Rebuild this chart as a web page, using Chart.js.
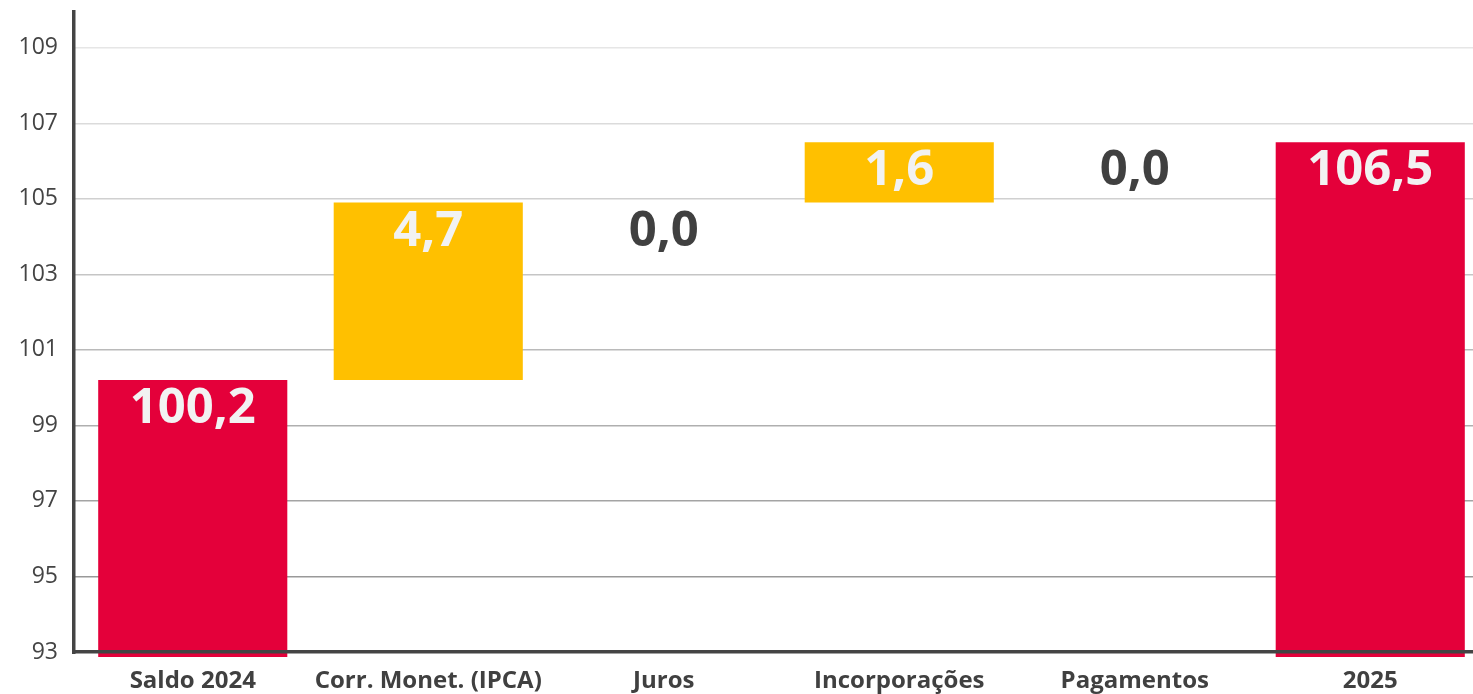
<!DOCTYPE html>
<html>
<head>
<meta charset="utf-8">
<script src="https://cdn.jsdelivr.net/npm/chart.js@4.4.1/dist/chart.umd.min.js"></script>
<style>
  html, body { margin: 0; padding: 0; background: #fff; overflow: hidden; }
  #wrap { width: 1488px; height: 694px; }
</style>
</head>
<body>
<div id="wrap"><canvas id="waterfall"></canvas></div>
<script>
// Waterfall data
const categories = ['Saldo 2024', 'Corr. Monet. (IPCA)', 'Juros', 'Incorporações', 'Pagamentos', '2025'];
const values = [100.2, 4.7, 0.0, 1.6, 0.0, 106.5];
const kinds = ['total', 'step', 'step', 'step', 'step', 'total'];
const yTicks = [93, 95, 97, 99, 101, 103, 105, 107, 109];
const yMin = 93, yMax = 110;
const totalBase = 92.87; // total bars run a little below the axis

// build floating bars [start, end]
let running = 0;
const ranges = values.map((v, i) => {
    if (kinds[i] === 'total') {
        running = v;
        return [totalBase, v];
    }
    const start = running;
    running = +(running + v).toFixed(1);
    return [start, running];
});

const fmt = v => v.toFixed(1).replace('.', ',');

const barLabels = {
    id: 'barLabels',
    afterDatasetsDraw(chart) {
        const ctx = chart.ctx;
        const meta = chart.getDatasetMeta(0);
        ctx.save();
        ctx.textAlign = 'center';
        ctx.textBaseline = 'middle';
        ctx.font = 'bold 49px "Open Sans"';
        meta.data.forEach((bar, i) => {
            const top = Math.min(bar.y, bar.base);
            ctx.fillStyle = values[i] === 0 ? '#404040' : '#F2F2F2';
            ctx.fillText(fmt(values[i]), bar.x, top + 29);
        });
        // axis lines on top of the bars
        const a = chart.chartArea;
        ctx.fillStyle = '#444444';
        ctx.fillRect(a.left - 3, 10, 3.5, a.bottom - 10 + 2);
        ctx.fillRect(a.left - 3, a.bottom - 2, chart.width, 3.5);
        ctx.restore();
    }
};

function gridColor(ctx) {
    const v = ctx.tick ? ctx.tick.value : yMin;
    const t = (v - 95) / (109 - 95);
    const c = Math.round(153 + Math.max(0, Math.min(1, t)) * (230 - 153));
    return `rgb(${c},${c},${c})`;
}

new Chart(document.getElementById('waterfall'), {
    type: 'bar',
    data: {
        labels: categories,
        datasets: [{
            data: ranges,
            backgroundColor: kinds.map(k => k === 'total' ? '#E4003A' : '#FFC000'),
            borderWidth: 0,
            borderSkipped: false,
            categoryPercentage: 1.0,
            barPercentage: 0.803,
            clip: false
        }]
    },
    options: {
        responsive: true,
        maintainAspectRatio: false,
        animation: false,
        layout: { padding: { top: 10, left: 0, right: 0, bottom: 0 } },
        plugins: { legend: { display: false }, tooltip: { enabled: false } },
        scales: {
            x: {
                grid: { display: false },
                border: { display: false },
                ticks: {
                    color: '#404040',
                    font: { family: '"Open Sans"', size: 24, weight: 'bold' },
                    padding: 7,
                    maxRotation: 0,
                    autoSkip: false
                },
                afterFit(scale) {
                    scale.height = 42;
                    scale.paddingLeft = 0;
                    scale.paddingRight = 0;
                }
            },
            y: {
                min: yMin,
                max: yMax,
                afterBuildTicks(scale) { scale.ticks = yTicks.map(v => ({ value: v })); },
                grid: { color: gridColor, lineWidth: 1.5, drawTicks: false },
                border: { display: false },
                ticks: {
                    color: '#444444',
                    font: { family: '"Open Sans"', size: 23 },
                    padding: 17
                },
                afterFit(scale) {
                    scale.width = 75;
                    scale.paddingTop = 0;
                    scale.paddingBottom = 0;
                }
            }
        }
    },
    plugins: [barLabels]
});
</script>
</body>
</html>
